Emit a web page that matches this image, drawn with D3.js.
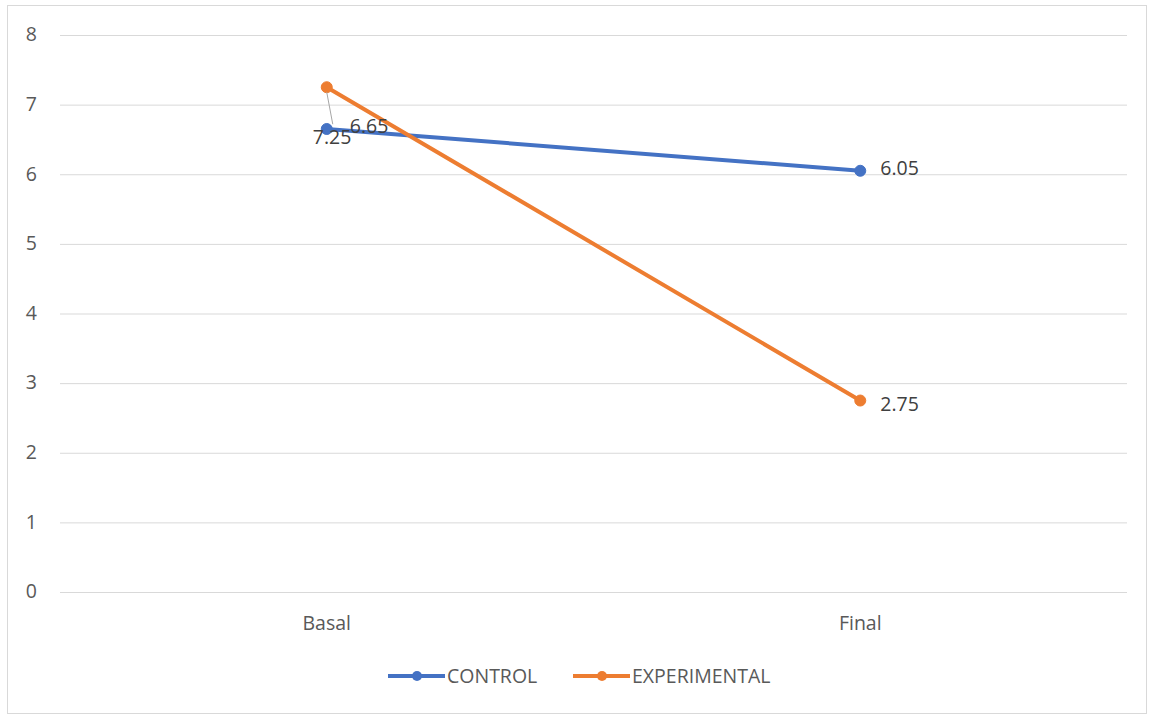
<!DOCTYPE html>
<html>
<head>
<meta charset="utf-8">
<script src="https://cdn.jsdelivr.net/npm/d3@7"></script>
<style>
  html, body { margin: 0; padding: 0; background: #fff; }
  svg { display: block; font-family: "Open Sans", "Segoe UI", sans-serif; }
</style>
</head>
<body>
<svg id="chart" width="1150" height="717"></svg>
<script>
// Scores per measurement moment
const categories = ["Basal", "Final"];
const controlValues = [6.65, 6.05];
const experimentalValues = [7.25, 2.75];
const yTicks = [0, 1, 2, 3, 4, 5, 6, 7, 8];
const seriesNames = ["CONTROL", "EXPERIMENTAL"];
const seriesColors = ["#4472C4", "#ED7D31"];

const series = [
  { name: seriesNames[0], values: controlValues, color: seriesColors[0] },
  { name: seriesNames[1], values: experimentalValues, color: seriesColors[1] }
];

const svg = d3.select("#chart");
const W = 1150, H = 717;
const FONT = "'Open Sans', sans-serif";
const FS = 19.5;

// outer chart frame
svg.append("rect")
  .attr("x", 7.5).attr("y", 5.5)
  .attr("width", W - 11).attr("height", H - 9)
  .attr("fill", "#fff").attr("stroke", "#d9d9d9").attr("stroke-width", 1);

const plot = { left: 60, right: 1127, top: 35, bottom: 592 };

const x = d3.scaleBand().domain(categories).range([plot.left, plot.right]);
const y = d3.scaleLinear().domain([0, 8]).range([plot.bottom, plot.top]);
const cx = c => x(c) + x.bandwidth() / 2;

// horizontal gridlines + y labels
const yAxis = d3.axisLeft(y).tickValues(yTicks).tickSize(-(plot.right - plot.left)).tickPadding(23).tickFormat(d3.format("d"));
const ya = svg.append("g").attr("transform", `translate(${plot.left},0)`).call(yAxis);
ya.select(".domain").remove();
ya.selectAll(".tick line").attr("stroke", "#d9d9d9").attr("stroke-width", 1);
ya.selectAll(".tick text").attr("fill", "#595959").attr("font-size", FS)
  .attr("font-family", FONT).attr("dy", "0.3em");

// x category labels
const xAxis = d3.axisBottom(x).tickSize(0).tickPadding(0);
const xa = svg.append("g").attr("transform", `translate(0,${plot.bottom})`).call(xAxis);
xa.select(".domain").remove();
xa.selectAll(".tick text").attr("fill", "#595959").attr("font-size", FS)
  .attr("font-family", FONT).attr("y", 32).attr("dy", "0.3em");

// lines
const line = d3.line().x((d, i) => cx(categories[i])).y(d => y(d));
series.forEach(s => {
  svg.append("path")
    .attr("d", line(s.values))
    .attr("fill", "none")
    .attr("stroke", s.color)
    .attr("stroke-width", 4)
    .attr("stroke-linecap", "round");
});

// markers
series.forEach(s => {
  svg.append("g").selectAll("circle").data(s.values).join("circle")
    .attr("cx", (d, i) => cx(categories[i]))
    .attr("cy", d => y(d))
    .attr("r", 5.5)
    .attr("fill", s.color)
    .attr("stroke", s.color);
});

// data labels
const fmt = d3.format(".2f");
const labelStyle = sel => sel.attr("fill", "#404040").attr("font-size", FS)
  .attr("font-family", FONT).attr("dy", "0.35em");

// control: labels to the right of both points
controlValues.forEach((v, i) => {
  svg.append("text").call(labelStyle)
    .attr("x", cx(categories[i]) + (i === 0 ? 23 : 20))
    .attr("y", y(v) - 3)
    .text(fmt(v));
});

// experimental: final label on the right, basal label pulled below with a leader line
const eb = experimentalValues[0];
const ebx = cx(categories[0]), eby = y(eb);
svg.append("line")
  .attr("x1", ebx).attr("y1", eby + 5)
  .attr("x2", ebx + 6).attr("y2", eby + 37)
  .attr("stroke", "#a6a6a6").attr("stroke-width", 1);
svg.append("text").call(labelStyle)
  .attr("x", ebx - 14).attr("y", eby + 50)
  .text(fmt(eb));

svg.append("text").call(labelStyle)
  .attr("x", cx(categories[1]) + 20)
  .attr("y", y(experimentalValues[1]) + 4)
  .text(fmt(experimentalValues[1]));

// legend
const legendX = [388, 573];
const lg = svg.append("g");
series.forEach((s, i) => {
  const g = lg.append("g").attr("transform", `translate(${legendX[i]},676)`);
  g.append("line").attr("x1", 0).attr("x2", 57).attr("y1", 0).attr("y2", 0)
    .attr("stroke", s.color).attr("stroke-width", 4);
  g.append("circle").attr("cx", 29).attr("cy", 0).attr("r", 5).attr("fill", s.color);
  g.append("text").attr("x", 59).attr("y", 0)
    .attr("dy", "0.35em")
    .attr("fill", "#595959").attr("font-size", FS)
    .attr("font-family", FONT)
    .text(s.name);
});
</script>
</body>
</html>
